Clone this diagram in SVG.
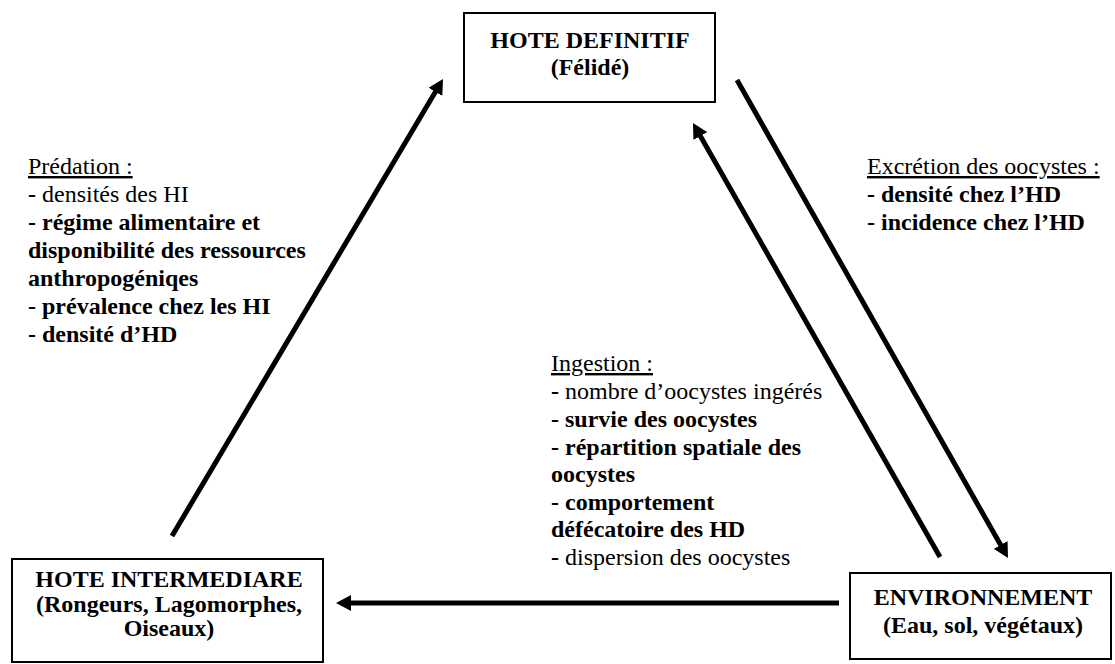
<svg xmlns="http://www.w3.org/2000/svg" width="1115" height="664" viewBox="0 0 1115 664">
<style>
.box{fill:#fff;stroke:#000;stroke-width:2}
.bt{font-family:"Liberation Serif","Times New Roman",serif;font-size:24px;font-weight:bold;text-anchor:middle;fill:#000}
.lt{font-family:"Liberation Serif","Times New Roman",serif;font-size:24px;fill:#000}
.b{font-weight:bold}
.u{text-decoration:underline}
.arr{stroke:#000;stroke-width:5;fill:none;marker-end:url(#ah)}
</style>
<defs>
<marker id="ah" viewBox="0 -8 15 16" refX="1" refY="0" markerWidth="15" markerHeight="16" markerUnits="userSpaceOnUse" orient="auto">
<path d="M0,-8 L15,0 L0,8 z" fill="#000"/>
</marker>
</defs>
<rect width="1115" height="664" fill="#fff"/>
<g id="connectors">
<line class="arr" x1="172" y1="536" x2="435.9" y2="91"/>
<line class="arr" x1="737" y1="80" x2="1001.1" y2="545.8"/>
<line class="arr" x1="940" y1="557" x2="699.9" y2="135.2"/>
<line class="arr" x1="839" y1="603" x2="350" y2="603"/>
</g>
<g id="hote-definitif">
<rect class="box" x="464" y="13" width="251" height="89"/>
<text class="bt" x="590" y="48">HOTE DEFINITIF</text>
<text class="bt" x="590" y="75">(Félidé)</text>
</g>
<g id="hote-intermediare">
<rect class="box" x="12" y="559" width="311" height="103"/>
<text class="bt" x="169" y="587">HOTE INTERMEDIARE</text>
<text class="bt" x="169" y="612">(Rongeurs, Lagomorphes,</text>
<text class="bt" x="169" y="636">Oiseaux)</text>
</g>
<g id="environnement">
<rect class="box" x="850" y="573" width="261" height="86"/>
<text class="bt" x="983" y="605">ENVIRONNEMENT</text>
<text class="bt" x="983" y="633">(Eau, sol, végétaux)</text>
</g>
<g id="label-predation">
<text class="lt" x="28" y="174"><tspan class="u">Prédation :</tspan></text>
<text class="lt" x="28" y="202"><tspan class="b">-</tspan> densités des HI</text>
<text class="lt b" x="28" y="230">- régime alimentaire et</text>
<text class="lt b" x="28" y="258">disponibilité des ressources</text>
<text class="lt b" x="28" y="286">anthropogéniqes</text>
<text class="lt b" x="28" y="314">- prévalence chez les HI</text>
<text class="lt b" x="28" y="342">- densité d’HD</text>
</g>
<g id="label-excretion">
<text class="lt" x="867" y="174"><tspan class="u">Excrétion des oocystes :</tspan></text>
<text class="lt b" x="867" y="202">- densité chez l’HD</text>
<text class="lt b" x="867" y="230">- incidence chez l’HD</text>
</g>
<g id="label-ingestion">
<text class="lt" x="551" y="371"><tspan class="u">Ingestion :</tspan></text>
<text class="lt" x="551" y="399"><tspan class="b">-</tspan> nombre d’oocystes ingérés</text>
<text class="lt b" x="551" y="427">- survie des oocystes</text>
<text class="lt b" x="551" y="455">- répartition spatiale des</text>
<text class="lt b" x="551" y="482">oocystes</text>
<text class="lt b" x="551" y="510">- comportement</text>
<text class="lt b" x="551" y="537">défécatoire des HD</text>
<text class="lt" x="551" y="565"><tspan class="b">-</tspan> dispersion des oocystes</text>
</g>
</svg>
